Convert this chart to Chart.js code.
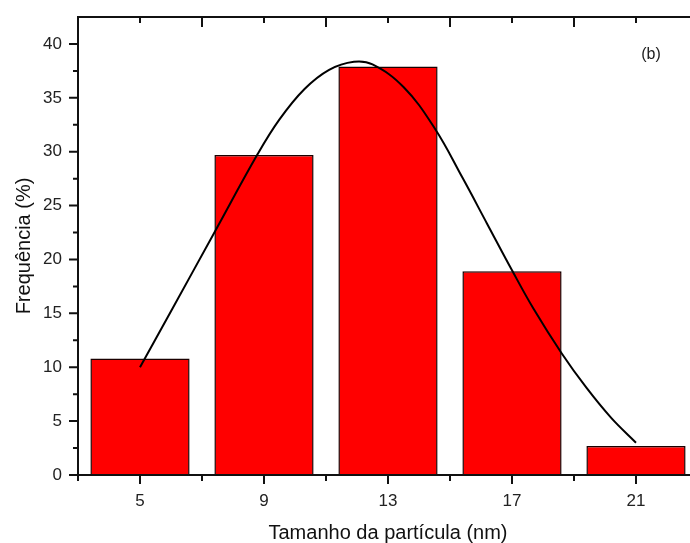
<!DOCTYPE html>
<html lang="pt">
<head>
  <meta charset="UTF-8" />
  <title>Distribuição do tamanho de partícula</title>
  <style>
    html, body {
      margin: 0;
      padding: 0;
      background: #fff;
      overflow: hidden;
    }
    .wrap {
      width: 710px;
      height: 543px;
    }
  </style>
</head>
<body>
  <div class="wrap">
    <canvas id="chart" width="710" height="543"></canvas>
  </div>

  <script src="https://cdn.jsdelivr.net/npm/chart.js"></script>

  <script>
    // histograma
    const sizes = [5, 9, 13, 17, 21];
    const freq = [10.8, 29.7, 37.9, 18.9, 2.7];

    // curva de ajuste
    const fitX = [5, 6.0, 7.4, 8.8, 9.5, 10.3, 11.1, 11.9, 12.5, 13.5, 14.5, 15.4, 16.2, 17.0, 17.7, 18.6, 19.4, 20.2, 21];
    const fitY = [10.0, 15.2, 22.5, 29.8, 33.0, 35.8, 37.6, 38.35, 38.1, 36.0, 32.2, 27.6, 23.3, 19.0, 15.4, 11.3, 8.1, 5.3, 3.0];

    const yTicks = [0, 5, 10, 15, 20, 25, 30, 35, 40];
    const yMinor = [2.5, 7.5, 12.5, 17.5, 22.5, 27.5, 32.5, 37.5];
    const xTicks = [5, 9, 13, 17, 21];
    const xMinor = [3, 7, 11, 15, 19, 23];

    const FONT = "'Liberation Sans', Arial, sans-serif";

    // moldura e marcas de escala estilo Origin
    const framePlugin = {
      id: 'frame',
      afterDraw(chart) {
        const ctx = chart.ctx;
        const a = chart.chartArea;
        const xs = chart.scales.x;
        const ys = chart.scales.y;
        ctx.save();
        ctx.strokeStyle = '#111';
        ctx.lineWidth = 2;
        ctx.strokeRect(a.left, a.top, a.right - a.left, a.bottom - a.top);

        ctx.beginPath();
        yTicks.forEach(v => {
          const y = ys.getPixelForValue(v);
          ctx.moveTo(a.left - 9, y); ctx.lineTo(a.left, y);
        });
        yMinor.forEach(v => {
          const y = ys.getPixelForValue(v);
          ctx.moveTo(a.left - 5, y); ctx.lineTo(a.left, y);
        });
        xTicks.forEach(v => {
          const x = xs.getPixelForValue(v);
          ctx.moveTo(x, a.bottom); ctx.lineTo(x, a.bottom + 9);
          ctx.moveTo(x, a.top); ctx.lineTo(x, a.top + 6);
        });
        xMinor.forEach(v => {
          const x = xs.getPixelForValue(v);
          ctx.moveTo(x, a.bottom); ctx.lineTo(x, a.bottom + 6);
          ctx.moveTo(x, a.top); ctx.lineTo(x, a.top + 10);
        });
        ctx.stroke();

        ctx.fillStyle = '#222';
        ctx.font = '16px ' + FONT;
        ctx.textAlign = 'center';
        ctx.textBaseline = 'middle';
        ctx.fillText('(b)', 651, 55);
        ctx.restore();
      }
    };

    new Chart(document.getElementById('chart'), {
      data: {
        datasets: [{
          type: 'line',
          data: fitX.map((x, i) => ({ x: x, y: fitY[i] })),
          borderColor: '#000',
          borderWidth: 2,
          pointRadius: 0,
          fill: false,
          tension: 0.4
        }, {
          type: 'bar',
          data: sizes.map((x, i) => ({ x: x, y: freq[i] })),
          backgroundColor: '#ff0000',
          borderColor: '#1a0000',
          borderWidth: 1.5,
          barPercentage: 1,
          categoryPercentage: 0.8
        }]
      },
      options: {
        responsive: false,
        animation: false,
        layout: { padding: { left: 0, top: 17, right: 12, bottom: 0 } },
        plugins: {
          legend: { display: false },
          tooltip: { enabled: false }
        },
        scales: {
          x: {
            type: 'linear',
            min: 3,
            max: 23,
            offset: false,
            grid: { display: false, drawTicks: false },
            border: { display: false },
            afterBuildTicks: s => { s.ticks = xTicks.map(v => ({ value: v })); },
            afterFit: s => { s.height = 68; s.paddingLeft = 0; s.paddingRight = 0; },
            ticks: {
              padding: 16,
              color: '#222',
              font: { family: FONT, size: 17 },
              maxRotation: 0
            },
            title: {
              display: true,
              text: 'Tamanho da partícula (nm)',
              color: '#111',
              font: { family: FONT, size: 20, lineHeight: 1 },
              padding: { top: 0, bottom: 0 }
            }
          },
          y: {
            min: 0,
            max: 42.5,
            grid: { display: false, drawTicks: false },
            border: { display: false },
            afterBuildTicks: s => { s.ticks = yTicks.map(v => ({ value: v })); },
            afterFit: s => { s.width = 78; s.paddingTop = 0; s.paddingBottom = 0; },
            ticks: {
              padding: 16,
              color: '#222',
              font: { family: FONT, size: 17 }
            },
            title: {
              display: true,
              text: 'Frequência (%)',
              color: '#111',
              font: { family: FONT, size: 20, lineHeight: 1 },
              padding: { top: 14, bottom: 0 }
            }
          }
        }
      },
      plugins: [framePlugin]
    });
  </script>
</body>
</html>
